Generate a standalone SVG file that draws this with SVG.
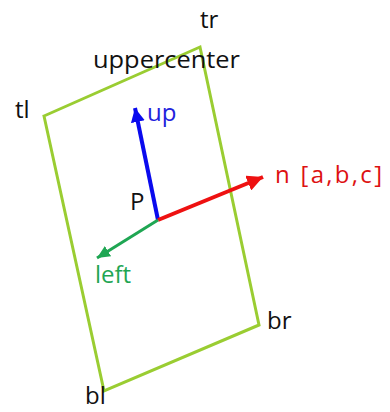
<svg xmlns="http://www.w3.org/2000/svg" width="390" height="412" viewBox="0 0 390 412">
<style>
text{font-family:"Open Sans","Noto Sans","Liberation Sans",sans-serif;font-size:24px}
.k{fill:#111}
</style>
<defs>
<marker id="ab" markerUnits="userSpaceOnUse" markerWidth="16" markerHeight="14" refX="14" refY="7" orient="auto"><path d="M0,0 L14,7 L0,14 Z" fill="#0a0aee"/></marker>
<marker id="ar" markerUnits="userSpaceOnUse" markerWidth="18" markerHeight="16" refX="16" refY="8" orient="auto"><path d="M0,0 L16,8 L0,16 Z" fill="#ee1111"/></marker>
<marker id="ag" markerUnits="userSpaceOnUse" markerWidth="14" markerHeight="12" refX="13" refY="6" orient="auto"><path d="M0,0 L13,6 L0,12 Z" fill="#1fa653"/></marker>
</defs>
<g id="plane">
<polygon points="44,116 200,47 259,325 104,391" fill="none" stroke="#9acd32" stroke-width="3" stroke-linejoin="miter"/>
</g>
<g id="connectors">
<line x1="158" y1="220" x2="135" y2="108" stroke="#0a0aee" stroke-width="4" marker-end="url(#ab)"/>
<line x1="158" y1="220" x2="263" y2="177" stroke="#ee1111" stroke-width="4" marker-end="url(#ar)"/>
<line x1="158" y1="220" x2="97" y2="258" stroke="#1fa653" stroke-width="3" marker-end="url(#ag)"/>
</g>
<g id="labels">
<text class="k" x="200" y="28">tr</text>
<text class="k" x="93" y="68" textLength="147" lengthAdjust="spacingAndGlyphs">uppercenter</text>
<text class="k" x="15" y="118">tl</text>
<text x="147" y="121" fill="#2222dd">up</text>
<text class="k" x="130" y="210">P</text>
<text x="275" y="183" fill="#dd1111" font-size="25" textLength="107" lengthAdjust="spacing">n [a,b,c]</text>
<text x="95" y="283" fill="#1fa653">left</text>
<text class="k" x="267" y="329">br</text>
<text class="k" x="85" y="404">bl</text>
</g>
</svg>
